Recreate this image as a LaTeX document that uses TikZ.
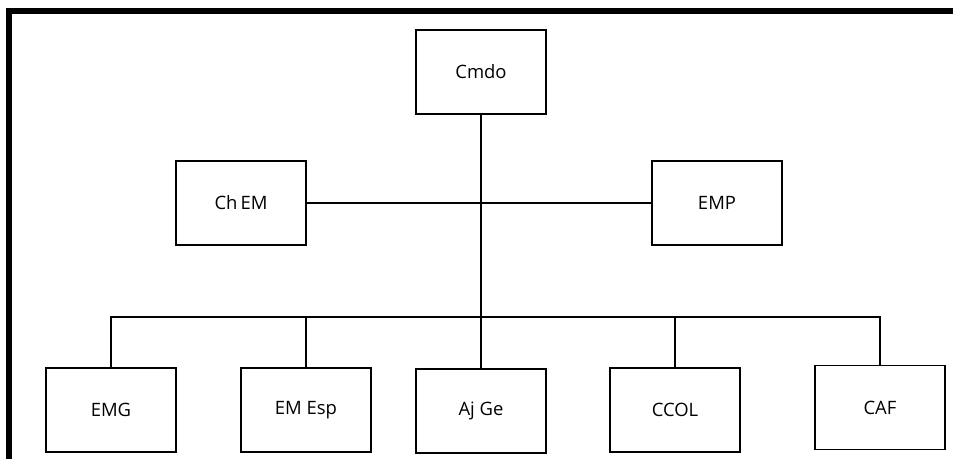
\documentclass[tikz,border=0pt]{standalone}
\usepackage{fontspec}
\setmainfont{Open Sans}
\tikzset{unit/.style={draw,line width=1.1pt,minimum width=2.6cm,minimum height=1.68cm,font=\fontsize{10.5}{12}\selectfont}}
\begin{document}
\begin{tikzpicture}[x=0.02cm,y=-0.02cm,line width=1pt]
\useasboundingbox (0,0) rectangle (953,459);
\draw[line width=3.4pt] (9,459)--(9,11)--(953,11);
\node[unit] (cmdo) at (481,72) {Cmdo};
\node[unit] (chem) at (241,203) {Ch\,EM};
\node[unit] (emp) at (717,203) {EMP};
\node[unit] (emg) at (111,410) {EMG};
\node[unit] (emesp) at (306,410) {EM Esp};
\node[unit] (ajge) at (481,411) {Aj Ge};
\node[unit] (ccol) at (675,410) {CCOL};
\node[unit] (caf) at (880,407.5) {CAF};
\coordinate (bus) at (481,317);
\draw (cmdo)--(ajge);
\draw (chem)--(emp);
\draw (emg.north) |- (bus) -| (caf.north);
\draw (emesp.north)--(emesp.north |- bus);
\draw (ccol.north)--(ccol.north |- bus);
\end{tikzpicture}
\end{document}
